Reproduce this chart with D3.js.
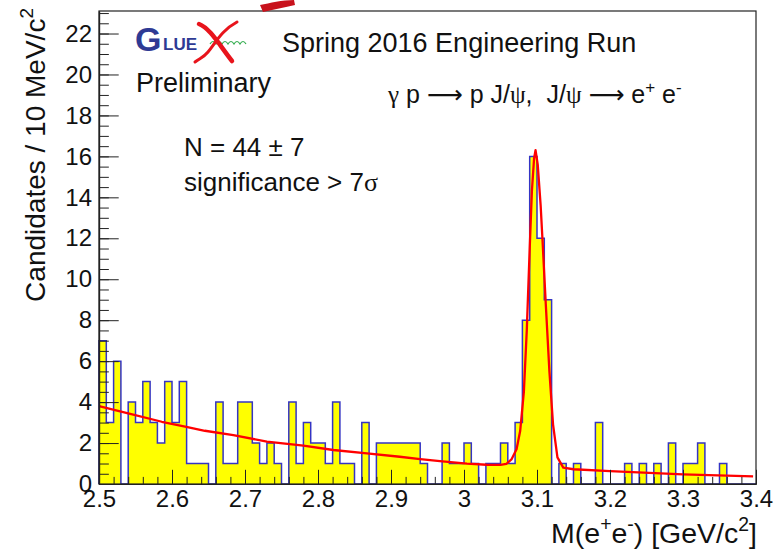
<!DOCTYPE html>
<html>
<head>
<meta charset="utf-8">
<script src="https://cdn.jsdelivr.net/npm/d3@7"></script>
<style>
  body { margin: 0; background: #fff; }
  svg { font-family: "Liberation Sans", Arial, Helvetica, sans-serif; }
</style>
</head>
<body>
<div id="wrapper"></div>
<script>
// Histogram: 10 MeV bins from 2.5 to 3.4 GeV
const binLow = 2.5
const binWidth = 0.01
const candidates = [
  7, 3, 6, 0, 4, 3, 5, 3, 2, 5,
  3, 5, 1, 1, 1, 0, 4, 1, 1, 4,
  4, 2, 1, 2, 1, 0, 4, 1, 3, 2,
  2, 1, 4, 1, 1, 0, 3, 0, 2, 2,
  2, 2, 2, 2, 1, 0, 0, 2, 1, 1,
  2, 1, 0, 1, 1, 2, 1, 3, 8, 16,
  12, 9, 0, 1, 0, 1, 0, 0, 3, 0,
  0, 0, 1, 0, 1, 0, 1, 0, 2, 0,
  1, 1, 2, 0, 0, 1, 0, 0, 0, 0
]

// Fit curve
const fitMass = [
  2.500, 2.540, 2.586, 2.618, 2.645, 2.684, 2.730, 2.780, 2.821, 2.867,
  2.912, 2.940, 2.967, 3.004, 3.031, 3.050, 3.058, 3.065, 3.072, 3.077,
  3.082, 3.086, 3.090, 3.093, 3.096, 3.098, 3.101, 3.105, 3.108, 3.112,
  3.117, 3.122, 3.128, 3.136, 3.150, 3.200, 3.300, 3.396
]
const fitValue = [
  3.80, 3.45, 3.04, 2.80, 2.60, 2.39, 2.07, 1.87, 1.66, 1.50,
  1.33, 1.22, 1.12, 1.00, 0.94, 0.93, 0.98, 1.20, 1.70, 2.60,
  4.50, 7.50, 11.5, 14.3, 15.9, 16.3, 15.6, 13.6, 11.6, 8.8,
  5.5, 2.9, 1.3, 0.80, 0.72, 0.63, 0.47, 0.37
]

const xTicks = [2.5, 2.6, 2.7, 2.8, 2.9, 3.0, 3.1, 3.2, 3.3, 3.4]
const xTickLabels = ["2.5", "2.6", "2.7", "2.8", "2.9", "3", "3.1", "3.2", "3.3", "3.4"]
const yTicks = [0, 2, 4, 6, 8, 10, 12, 14, 16, 18, 20, 22]
const yMax = 23.1

function drawHistogram() {

  // Chart dimensions
  let dimensions = {
    width: 776,
    height: 554,
    margin: {
      top: 11,
      right: 20,
      bottom: 70,
      left: 99,
    },
  }
  dimensions.boundedWidth = dimensions.width
    - dimensions.margin.left
    - dimensions.margin.right
  dimensions.boundedHeight = dimensions.height
    - dimensions.margin.top
    - dimensions.margin.bottom

  const wrapper = d3.select("#wrapper")
    .append("svg")
    .attr("width", dimensions.width)
    .attr("height", dimensions.height)

  const bounds = wrapper.append("g")
    .attr("transform", `translate(${dimensions.margin.left}, ${dimensions.margin.top})`)

  // Scales
  const xScale = d3.scaleLinear()
    .domain([binLow, binLow + candidates.length * binWidth])
    .range([0, dimensions.boundedWidth])

  const yScale = d3.scaleLinear()
    .domain([0, yMax])
    .range([dimensions.boundedHeight, 0])

  // Step outline of the histogram
  const steps = [[binLow, 0]]
  candidates.forEach((v, i) => {
    steps.push([binLow + i * binWidth, v])
    steps.push([binLow + (i + 1) * binWidth, v])
  })
  steps.push([binLow + candidates.length * binWidth, 0])

  const area = d3.area()
    .x(d => xScale(d[0]))
    .y0(yScale(0))
    .y1(d => yScale(d[1]))

  const line = d3.line()
    .x(d => xScale(d[0]))
    .y(d => yScale(d[1]))

  bounds.append("path")
    .datum(steps)
    .attr("d", area)
    .attr("fill", "#ffff00")

  bounds.append("path")
    .datum(steps)
    .attr("d", line)
    .attr("fill", "none")
    .attr("stroke", "#3434c4")
    .attr("stroke-width", 1.5)

  // Fit
  const fitPoints = fitMass.map((m, i) => [m, fitValue[i]])
  bounds.append("path")
    .datum(fitPoints)
    .attr("d", line)
    .attr("fill", "none")
    .attr("stroke", "#ff0000")
    .attr("stroke-width", 2.3)
    .attr("stroke-linejoin", "round")

  // Frame
  bounds.append("rect")
    .attr("width", dimensions.boundedWidth)
    .attr("height", dimensions.boundedHeight)
    .attr("fill", "none")
    .attr("stroke", "#222")
    .attr("stroke-width", 1.2)

  // Axes, ticks pointing inward like ROOT
  const xMajor = 0.03 * dimensions.boundedHeight
  const yMajor = 0.03 * dimensions.boundedWidth

  const xMinorGen = d3.axisBottom(xScale)
    .tickValues(d3.range(0, 46).map(i => binLow + i * 0.02))
    .tickSizeInner(-xMajor / 2)
    .tickSizeOuter(0)
    .tickFormat("")
  const xAxisGen = d3.axisBottom(xScale)
    .tickValues(xTicks)
    .tickSizeInner(-xMajor)
    .tickSizeOuter(0)
    .tickPadding(6)
    .tickFormat((d, i) => xTickLabels[i])

  const yMinorGen = d3.axisLeft(yScale)
    .tickValues(d3.range(0, 47).map(i => i * 0.5))
    .tickSizeInner(-yMajor / 2)
    .tickSizeOuter(0)
    .tickFormat("")
  const yAxisGen = d3.axisLeft(yScale)
    .tickValues(yTicks)
    .tickSizeInner(-yMajor)
    .tickSizeOuter(0)
    .tickPadding(7)

  const xAxis = bounds.append("g")
    .attr("transform", `translate(0, ${dimensions.boundedHeight})`)
  xAxis.append("g").call(xMinorGen)
  xAxis.append("g").call(xAxisGen)

  const yAxis = bounds.append("g")
  yAxis.append("g").call(yMinorGen)
  yAxis.append("g").call(yAxisGen)

  bounds.selectAll(".tick line")
    .attr("stroke", "#222")
    .attr("stroke-width", 1)
  bounds.selectAll(".domain")
    .attr("stroke", "#222")
    .attr("stroke-width", 1.2)
  bounds.selectAll(".tick text")
    .attr("fill", "#111")
    .style("font-family", "\"Liberation Sans\", Arial, sans-serif")
    .style("font-size", "24px")

  // Text helper with superscripts; [text] is a superscript, {t, f} uses font f
  function richText(g, x, y, size, anchor, pieces) {
    const t = g.append("text")
      .attr("x", x)
      .attr("y", y)
      .attr("text-anchor", anchor)
      .attr("fill", "#111")
      .style("font-size", size + "px")
      .style("white-space", "pre")
    let raised = false
    pieces.forEach(p => {
      const sup = Array.isArray(p)
      const s = sup ? p[0] : (typeof p === "object" ? p.t : p)
      const span = t.append("tspan").text(s)
      if (typeof p === "object" && !sup) span.style("font-family", p.f)
      if (sup && !raised) {
        span.attr("dy", -size * 0.42).style("font-size", (size * 0.68) + "px")
        raised = true
      } else if (sup) {
        span.style("font-size", (size * 0.68) + "px")
      } else if (raised) {
        span.attr("dy", size * 0.42)
        raised = false
      }
    })
    return t
  }

  // Axis titles
  const yTitle = wrapper.append("g")
    .attr("transform", "translate(45, 8) rotate(-90)")
  richText(yTitle, 0, 0, 28, "end", ["Candidates / 10 MeV/c", ["2"]])

  richText(wrapper, 757, 543, 28.5, "end",
    ["M(e", ["+"], "e", ["-"], ") [GeV/c", ["2"], "]"])

  // Labels
  const greek = "\"Liberation Serif\", \"DejaVu Serif\", serif"
  const arrow = "\"DejaVu Sans\", sans-serif"
  richText(wrapper, 282, 52, 27, "start", ["Spring 2016 Engineering Run"])
  richText(wrapper, 136, 92, 27, "start", ["Preliminary"])
  richText(wrapper, 388, 103, 25, "start", [
    {t: "\u03b3", f: greek}, " p ", {t: "\u27f6", f: arrow}, " p J/", {t: "\u03c8", f: greek},
    ",  J/", {t: "\u03c8", f: greek}, " ", {t: "\u27f6", f: arrow}, " e", ["+"], " e", ["-"]
  ])
  richText(wrapper, 184, 156, 26, "start", ["N = 44 \u00b1 7"])
  richText(wrapper, 184, 191, 26, "start", ["significance > 7", {t: "\u03c3", f: greek}])

  // GlueX logo
  const logo = wrapper.append("g")
  logo.append("text")
    .attr("x", 135).attr("y", 51)
    .attr("fill", "#2e3a94")
    .style("font-size", "34px")
    .style("font-weight", "bold")
    .text("G")
  logo.append("text")
    .attr("x", 163).attr("y", 50)
    .attr("fill", "#2e3a94")
    .style("font-size", "17px")
    .style("font-weight", "bold")
    .text("LUE")
  let wave = "M210,44"
  for (let i = 0; i < 6; i++) wave += " q3,-5 6,0"
  logo.append("path")
    .attr("d", wave)
    .attr("fill", "none")
    .attr("stroke", "#2eaa4a")
    .attr("stroke-width", 1.2)
  logo.append("path")
    .attr("d", "M199,24 C210,28 220,46 232,61")
    .attr("fill", "none")
    .attr("stroke", "#e8141c")
    .attr("stroke-width", 4.5)
    .attr("stroke-linecap", "round")
  logo.append("path")
    .attr("d", "M195,62 C200,58 203,58 208,52 C216,42 222,30 237,22")
    .attr("fill", "none")
    .attr("stroke", "#e8141c")
    .attr("stroke-width", 3)
    .attr("stroke-linecap", "round")

  // red mark at the top edge
  wrapper.append("path")
    .attr("d", "M260,5 C270,3 282,0 294,0 L295,5 C285,7 273,10 263,12 Z")
    .attr("fill", "#c8121c")
}
drawHistogram()
</script>
</body>
</html>
